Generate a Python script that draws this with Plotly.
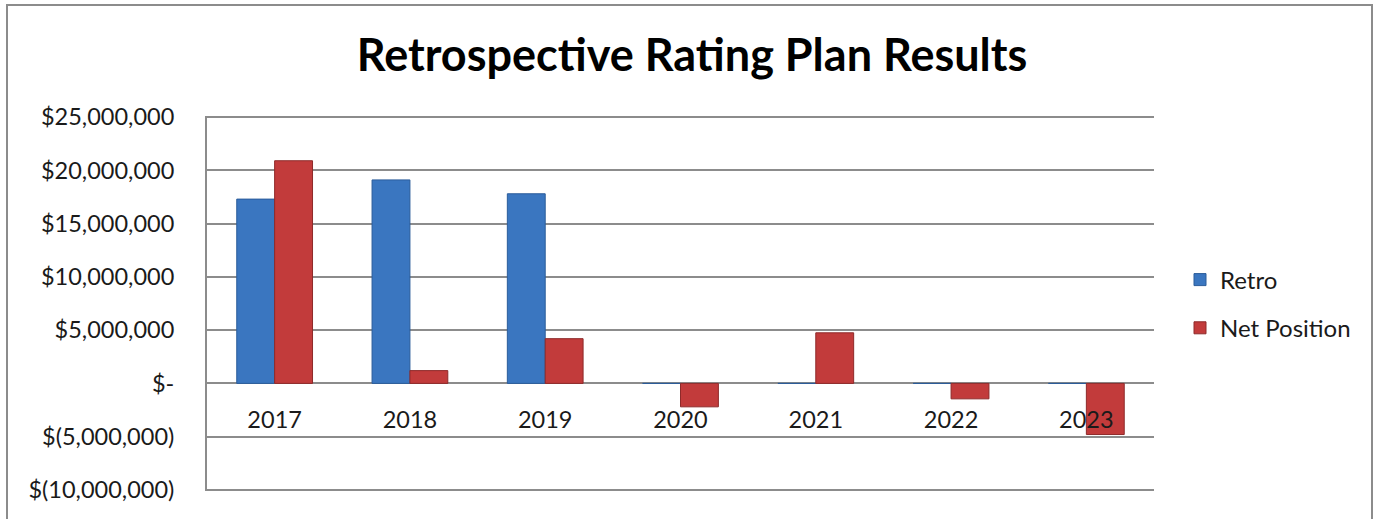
import plotly.graph_objects as go

years = ["2017", "2018", "2019", "2020", "2021", "2022", "2023"]
retro = [17300000, 19100000, 17800000, 0, 0, 0, 0]
net_position = [20900000, 1200000, 4200000, -2200000, 4750000, -1450000, -4800000]

y_tickvals = [25000000, 20000000, 15000000, 10000000, 5000000, 0, -5000000, -10000000]
y_ticktext = ["$25,000,000", "$20,000,000", "$15,000,000", "$10,000,000",
              "$5,000,000", "$-", "$(5,000,000)", "$(10,000,000)"]

FONT = "Lato"
GRID = "#8c8c8c"
TXT = "#1a1a1a"

W, H = 1380, 519
ML, MR, MT, MB = 207, 226, 116, 28
pw = W - ML - MR
ph = H - MT - MB

fig = go.Figure()
fig.add_trace(go.Bar(
    x=years, y=retro, name="Retro", legendgroup="a",
    marker=dict(color="#3a76c0", line=dict(color="#2b5c9a", width=1)),
))
fig.add_trace(go.Bar(
    x=years, y=net_position, name="Net Position", legendgroup="b",
    marker=dict(color="#c23b3b", line=dict(color="#8e2a2a", width=1)),
))

ymin, ymax = -10100000, 25100000
zero_pos = (0 - ymin) / (ymax - ymin)

fig.update_layout(
    width=W, height=H,
    margin=dict(l=ML, r=MR, t=MT, b=MB, autoexpand=False),
    paper_bgcolor="white", plot_bgcolor="white",
    barmode="group", bargap=0.44, bargroupgap=0,
    title=dict(text="<b>Retrospective Rating Plan Results</b>",
               font=dict(family=FONT, size=45, color="#000000"),
               x=(692 - ML) / pw, xanchor="center", xref="paper",
               y=1 - 55 / H, yanchor="middle"),
    font=dict(family=FONT, size=23, color=TXT),
    showlegend=True,
    legend=dict(x=(1180 - ML) / pw, y=(H - MB - 304) / ph, xanchor="left", yanchor="middle",
                font=dict(family=FONT, size=24, color=TXT),
                tracegroupgap=14, bgcolor="rgba(0,0,0,0)"),
    xaxis=dict(
        type="category", anchor="free", position=zero_pos,
        showline=False, showgrid=False, zeroline=False,
        ticks="", ticklabelstandoff=20,
        tickfont=dict(family=FONT, size=23.5, color=TXT),
    ),
    yaxis=dict(
        range=[ymin, ymax], tickvals=y_tickvals, ticktext=y_ticktext,
        showgrid=True, gridcolor=GRID, gridwidth=2,
        zeroline=True, zerolinecolor=GRID, zerolinewidth=2,
        showline=True, linecolor=GRID, linewidth=2,
        ticks="", ticklabelstandoff=26,
        tickfont=dict(family=FONT, size=23.5, color=TXT),
    ),
)

# outer chart border
fig.add_shape(type="rect", xref="paper", yref="paper",
              x0=(7 - ML) / pw, x1=(1372 - ML) / pw,
              y0=(H - MB - 530) / ph, y1=(H - MB - 5) / ph,
              line=dict(color="#8c8c8c", width=2), fillcolor="rgba(0,0,0,0)", layer="below")

fig.write_html("out.html", config={"displayModeBar": False},
               post_script="document.body.style.margin='0';document.body.style.overflow='hidden';")
